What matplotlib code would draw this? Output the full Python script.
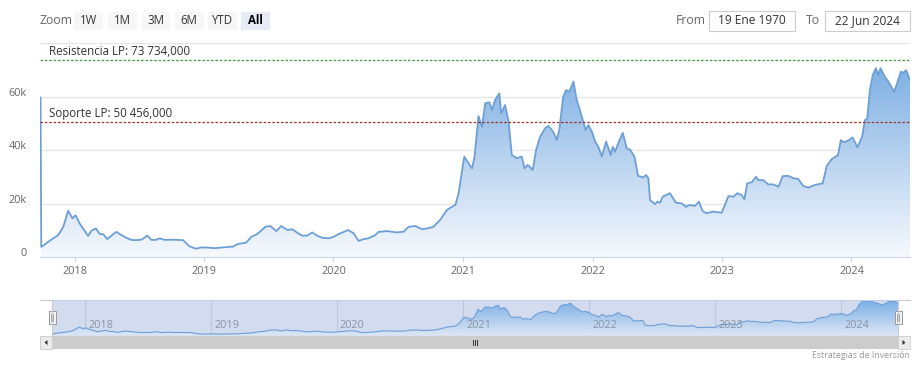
import numpy as np
import pandas as pd
import matplotlib
matplotlib.use('Agg')
import matplotlib.pyplot as plt
import matplotlib.dates as mdates
from matplotlib.colors import LinearSegmentedColormap
from matplotlib.patches import Rectangle, Polygon
from matplotlib.transforms import ScaledTranslation, blended_transform_factory

plt.rcParams['font.family'] = ['Open Sans', 'DejaVu Sans']

# precio (USD)
fechas = [
    "2017-09-27", "2017-09-29", "2017-10-03", "2017-10-19", "2017-11-02", "2017-11-16",
    "2017-11-30", "2017-12-14", "2017-12-26", "2018-01-04", "2018-01-15", "2018-01-28",
    "2018-02-08", "2018-02-18", "2018-03-02", "2018-03-13", "2018-03-23", "2018-04-03",
    "2018-04-15", "2018-04-29", "2018-05-13", "2018-05-27", "2018-06-10", "2018-06-24",
    "2018-07-09", "2018-07-25", "2018-08-06", "2018-08-18", "2018-08-29", "2018-09-12",
    "2018-10-01", "2018-11-03", "2018-11-20", "2018-12-09", "2018-12-25", "2019-01-13",
    "2019-01-31", "2019-02-24", "2019-03-24", "2019-04-07", "2019-04-30", "2019-05-15",
    "2019-05-31", "2019-06-23", "2019-07-07", "2019-07-24", "2019-08-07", "2019-08-24",
    "2019-09-07", "2019-09-21", "2019-10-05", "2019-10-19", "2019-11-02", "2019-11-16",
    "2019-11-30", "2019-12-19", "2020-01-02", "2020-01-16", "2020-02-11", "2020-02-27",
    "2020-03-12", "2020-03-26", "2020-04-09", "2020-04-28", "2020-05-07", "2020-05-31",
    "2020-06-28", "2020-07-17", "2020-07-31", "2020-08-19", "2020-09-07", "2020-09-21",
    "2020-10-09", "2020-10-28", "2020-11-16", "2020-11-30", "2020-12-10", "2020-12-19",
    "2021-01-04", "2021-01-13", "2021-01-26", "2021-02-02", "2021-02-13", "2021-02-23",
    "2021-03-04", "2021-03-16", "2021-03-23", "2021-04-01", "2021-04-13", "2021-04-18",
    "2021-04-29", "2021-05-09", "2021-05-18", "2021-06-01", "2021-06-15", "2021-06-23",
    "2021-07-02", "2021-07-16", "2021-07-26", "2021-08-06", "2021-08-20", "2021-08-29",
    "2021-09-12", "2021-09-22", "2021-09-29", "2021-10-10", "2021-10-18", "2021-10-27",
    "2021-11-08", "2021-11-17", "2021-11-26", "2021-12-04", "2021-12-12", "2021-12-20",
    "2021-12-30", "2022-01-08", "2022-01-17", "2022-01-27", "2022-02-08", "2022-02-21",
    "2022-02-27", "2022-03-05", "2022-03-16", "2022-03-27", "2022-04-07", "2022-04-17",
    "2022-04-29", "2022-05-09", "2022-05-24", "2022-06-01", "2022-06-07", "2022-06-12",
    "2022-06-26", "2022-07-03", "2022-07-10", "2022-07-18", "2022-08-07", "2022-08-24",
    "2022-09-09", "2022-09-21", "2022-10-02", "2022-10-16", "2022-10-28", "2022-11-07",
    "2022-11-18", "2022-12-06", "2022-12-31", "2023-01-19", "2023-02-02", "2023-02-13",
    "2023-02-25", "2023-03-05", "2023-03-13", "2023-03-26", "2023-04-07", "2023-04-13",
    "2023-04-27", "2023-05-11", "2023-05-25", "2023-06-09", "2023-06-21", "2023-07-07",
    "2023-07-21", "2023-08-04", "2023-08-18", "2023-09-01", "2023-09-20", "2023-10-12",
    "2023-10-23", "2023-11-06", "2023-11-24", "2023-12-02", "2023-12-10", "2023-12-23",
    "2024-01-04", "2024-01-18", "2024-01-31", "2024-02-08", "2024-02-14", "2024-02-22",
    "2024-03-01", "2024-03-10", "2024-03-16", "2024-03-23", "2024-04-04", "2024-04-14",
    "2024-04-30", "2024-05-07", "2024-05-19", "2024-05-26", "2024-06-03", "2024-06-14",
]
precios = [
    59700, 3800, 4100, 5700, 7000, 8200,
    11300, 17300, 14500, 15600, 12600, 10100,
    7900, 9900, 10700, 8600, 8500, 6700,
    8000, 9400, 8200, 7200, 6400, 6300,
    6500, 8000, 6400, 6400, 7000, 6400,
    6500, 6300, 4100, 3100, 3600, 3500,
    3300, 3600, 3900, 4900, 5400, 7600,
    8600, 11300, 11600, 9700, 11600, 10100,
    10400, 9100, 8000, 8000, 9200, 8000,
    7200, 7000, 7600, 8600, 10100, 8900,
    6000, 6700, 7000, 8200, 9400, 9700,
    9200, 9500, 11300, 11600, 10400, 10700,
    11300, 13900, 17600, 18800, 19500, 23900,
    37600, 35700, 33200, 37600, 52800, 48800,
    57600, 57900, 55100, 58800, 61300, 53800,
    56900, 50700, 38200, 37000, 37600, 33200,
    34500, 32600, 40300, 45100, 48200, 49100,
    46900, 43800, 47600, 60000, 62500, 61900,
    65700, 58800, 55100, 51300, 47600, 49400,
    46900, 43200, 41300, 37600, 43200, 38200,
    41300, 39400, 43200, 46500, 40700, 40100,
    37600, 30400, 29800, 30700, 29500, 21300,
    19800, 20700, 20300, 22600, 23900, 20300,
    20100, 18800, 19500, 19100, 20700, 17200,
    16400, 17000, 16600, 22800, 22600, 23900,
    23200, 21600, 27600, 28000, 30100, 28800,
    28800, 27200, 27200, 26300, 30300, 30400,
    29500, 29200, 26600, 26000, 27000, 27600,
    34100, 36600, 38200, 43800, 43000, 43600,
    44800, 41100, 45100, 51300, 51600, 62500,
    68200, 70700, 68200, 70700, 67500, 65700,
    61900, 64400, 69400, 69000, 70000, 66300,
]

resistencia = 73734
soporte = 50456
etiqueta_res = "Resistencia LP: 73 734,000"
etiqueta_sop = "Soporte LP: 50 456,000"
anios = [2018, 2019, 2020, 2021, 2022, 2023, 2024]
y_ticks = [0, 20000, 40000, 60000]
y_labels = ["0", "20k", "40k", "60k"]
botones = ["1W", "1M", "3M", "6M", "YTD", "All"]
desde = "19 Ene 1970"
hasta = "22 Jun 2024"
credito = "Estrategias de Inversión"

W, H = 924, 367
fig = plt.figure(figsize=(W / 100, H / 100), dpi=100)


def px_rect(l, t, r, b):
    return [l / W, 1 - b / H, (r - l) / W, (b - t) / H]


def area_gradiente(ax, x, y, top, c_top, c_bot, line_color, lw):
    cmap = LinearSegmentedColormap.from_list('g', [c_bot, c_top])
    grad = np.linspace(0, 1, 256).reshape(-1, 1)
    im = ax.imshow(grad, extent=[x[0], x[-1], 0, top], origin='lower',
                   aspect='auto', cmap=cmap, zorder=1, interpolation='bilinear')
    poly = ax.fill_between(x, 0, y, color='none', lw=0)
    im.set_clip_path(poly.get_paths()[0], transform=ax.transData)
    ax.plot(x, y, color=line_color, lw=lw, zorder=3, solid_joinstyle='round')


x = mdates.date2num(pd.to_datetime(fechas))
y = np.array(precios, dtype=float)
x_anios = mdates.date2num(pd.to_datetime([f"{a}-01-01" for a in anios]))

# ---- grafico principal ----
ax = fig.add_axes(px_rect(40, 43.4, 910, 257))
for v in [20000, 40000, 60000, 80000]:
    ax.axhline(v, color='#e6e6e6', lw=1, zorder=0.5)
area_gradiente(ax, x, y, 80000, '#6fa6e0', '#f6f9fd', '#6d9fd6', 1.3)
ax.set_xlim(x[0] - 1.5, x[-1])
ax.set_ylim(0, 80000)
for s in ['top', 'right', 'left']:
    ax.spines[s].set_visible(False)
ax.spines['bottom'].set_color('#ccd6eb')
ax.set_xticks(x_anios)
ax.set_xticklabels([str(a) for a in anios])
ax.tick_params(axis='x', length=3.6, color='#ccd6eb', labelcolor='#666666',
               labelsize=7.8, pad=3)
ax.set_yticks(y_ticks)
ax.set_yticklabels(y_labels)
ax.tick_params(axis='y', length=0, labelcolor='#666666', labelsize=7.8, pad=9.5)
for lab in ax.get_yticklabels():
    lab.set_transform(lab.get_transform() + ScaledTranslation(0, 5 / 100, fig.dpi_scale_trans))

ax.axhline(resistencia, color='#3d9b3d', lw=0.9, ls=(0, (2, 1.5)), zorder=4)
ax.axhline(soporte, color='#a0302a', lw=0.9, ls=(0, (2, 1.5)), zorder=4)
tr = blended_transform_factory(ax.transAxes, ax.transData) + ScaledTranslation(0, 2 / 100, fig.dpi_scale_trans)
ax.text(9 / 870, resistencia, etiqueta_res, transform=tr, fontsize=8.3,
        color='#333333', va='bottom', ha='left', zorder=5)
ax.text(9 / 870, soporte, etiqueta_sop, transform=tr, fontsize=8.3,
        color='#333333', va='bottom', ha='left', zorder=5)

# ---- navegador ----
nav = fig.add_axes(px_rect(52, 300, 898, 335.7))
nav.set_facecolor('#d3dcee')
for xa in x_anios:
    nav.axvline(xa, color='#bcc7dd', lw=0.8, zorder=0.5)
area_gradiente(nav, x[1:], y[1:], 72000, '#7aaee6', '#dfe8f5', '#6d9fd6', 0.8)
nav.set_xlim(x[0], x[-1])
nav.set_ylim(0, 72000)
nav.set_xticks([])
nav.set_yticks([])
for s in nav.spines.values():
    s.set_visible(False)
tr_nav = blended_transform_factory(nav.transData, nav.transAxes) + ScaledTranslation(3 / 100, 0, fig.dpi_scale_trans)
for xa, a in zip(x_anios, anios):
    nav.text(xa, 0.12, str(a), transform=tr_nav,
             fontsize=7.8, color='#8a93a6', ha='left', va='bottom', zorder=5)

# ---- interfaz (botones, scrollbar) ----
ui = fig.add_axes([0, 0, 1, 1], facecolor='none')
ui.set_xlim(0, W)
ui.set_ylim(H, 0)
ui.axis('off')

ui.text(40, 20.5, "Zoom", fontsize=8.8, color='#666666', va='center', ha='left')
bx = [74, 108, 141.5, 175, 208, 241]
for b, lab in zip(bx, botones):
    sel = lab == "All"
    ui.add_patch(Rectangle((b, 11.5), 28.5, 18.5, facecolor='#e6ebf5' if sel else '#f7f7f7',
                           edgecolor='none'))
    ui.text(b + 14.25, 20.5, lab, fontsize=8.3, color='#000000' if sel else '#333333',
            fontweight='bold' if sel else 'normal', va='center', ha='center')

ui.text(676, 20.5, "From", fontsize=8.8, color='#666666', va='center', ha='left')
ui.add_patch(Rectangle((709, 11), 85.5, 20, facecolor='white', edgecolor='#cccccc', lw=0.8))
ui.text(751.5, 20.5, desde, fontsize=8.6, color='#333333', va='center', ha='center')
ui.text(805.5, 20.5, "To", fontsize=8.8, color='#666666', va='center', ha='left')
ui.add_patch(Rectangle((825, 11), 85, 20, facecolor='white', edgecolor='#cccccc', lw=0.8))
ui.text(867.5, 20.5, hasta, fontsize=8.6, color='#333333', va='center', ha='center')

# contorno del navegador
ui.plot([40, 52, 52, 898, 898, 910], [300, 300, 335.7, 335.7, 300, 300], color='#cccccc', lw=0.8)
ui.plot([52, 898], [300, 300], color='#c3cde2', lw=0.8)

# scrollbar
ui.add_patch(Rectangle((40, 336), 870, 13.3, facecolor='#f2f2f2', edgecolor='none'))
ui.add_patch(Rectangle((52, 336), 846, 13.3, facecolor='#cccccc', edgecolor='none'))
ui.add_patch(Rectangle((40, 336), 12, 13.3, facecolor='#ebebeb', edgecolor='#cccccc', lw=0.6))
ui.add_patch(Rectangle((898, 336), 12, 13.3, facecolor='#ebebeb', edgecolor='#cccccc', lw=0.6))
ui.add_patch(Polygon([[47.5, 340], [47.5, 345], [44.5, 342.5]], closed=True, facecolor='#333333'))
ui.add_patch(Polygon([[902.5, 340], [902.5, 345], [905.5, 342.5]], closed=True, facecolor='#333333'))
for gx in [473, 475, 477]:
    ui.plot([gx, gx], [340, 345], color='#333333', lw=0.7)

# manijas del navegador
for hx in [52, 898]:
    ui.add_patch(Rectangle((hx - 3.5, 311), 7, 13, facecolor='#f2f2f2', edgecolor='#999999', lw=0.7))
    ui.plot([hx - 1, hx - 1], [314, 321], color='#999999', lw=0.6)
    ui.plot([hx + 1, hx + 1], [314, 321], color='#999999', lw=0.6)

ui.text(910, 355, credito, fontsize=6.3, color='#999999', va='center', ha='right')

fig.savefig('out.png', dpi=100)
